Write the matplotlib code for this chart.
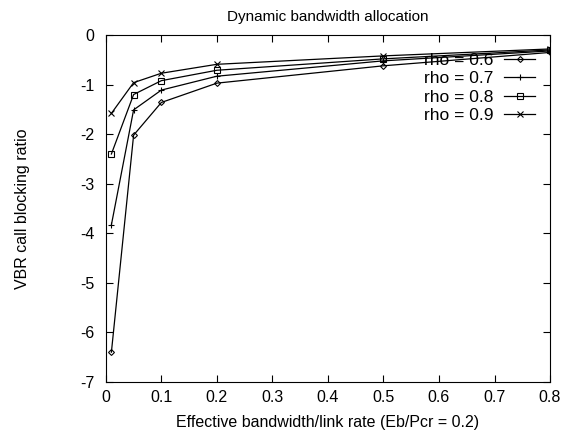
import matplotlib
matplotlib.use("Agg")
import matplotlib.pyplot as plt

plt.rcParams['font.family'] = ['Liberation Sans', 'DejaVu Sans']
plt.rcParams['axes.unicode_minus'] = False

x = [0.01, 0.05, 0.1, 0.2, 0.5, 0.8]

rho_06 = [-6.4, -2.02, -1.36, -0.97, -0.62, -0.35]
rho_07 = [-3.83, -1.51, -1.11, -0.83, -0.52, -0.32]
rho_08 = [-2.4, -1.2, -0.92, -0.71, -0.48, -0.30]
rho_09 = [-1.58, -0.96, -0.77, -0.59, -0.42, -0.28]

labels = ["rho = 0.6", "rho = 0.7", "rho = 0.8", "rho = 0.9"]
markers = ["D", "+", "s", "x"]
sizes = [3, 5, 4, 4]

fig = plt.figure(figsize=(5.63, 4.33), dpi=100)
ax = fig.add_axes([0.188, 0.118, 0.789, 0.801])

for ys, lab, m, ms in zip([rho_06, rho_07, rho_08, rho_09], labels, markers, sizes):
    ax.plot(x, ys, color="black", linewidth=0.9, marker=m, markersize=ms,
            markerfacecolor="none", markeredgewidth=0.8, label=lab)

ax.set_xlim(0, 0.8)
ax.set_ylim(-7, 0)
ax.set_xticks([0, 0.1, 0.2, 0.3, 0.4, 0.5, 0.6, 0.7, 0.8])
ax.set_xticklabels(["0", "0.1", "0.2", "0.3", "0.4", "0.5", "0.6", "0.7", "0.8"])
ax.set_yticks(range(-7, 1))
ax.tick_params(direction="in", top=True, right=True, labelsize=11.5, length=5)
ax.tick_params(axis="x", pad=6)
ax.tick_params(axis="y", pad=8)

ax.set_title("Dynamic bandwidth allocation", fontsize=11, pad=10)
ax.set_xlabel("Effective bandwidth/link rate (Eb/Pcr = 0.2)", fontsize=11.5, labelpad=7)
ax.set_ylabel("VBR call blocking ratio", fontsize=11.5, labelpad=36)

ax.legend(loc="upper right", bbox_to_anchor=(0.985, 0.975), frameon=False,
          markerfirst=False, fontsize=12.5, handlelength=1.75, labelspacing=0.2,
          borderpad=0, handletextpad=0.63)

fig.savefig("out.png", dpi=100)
